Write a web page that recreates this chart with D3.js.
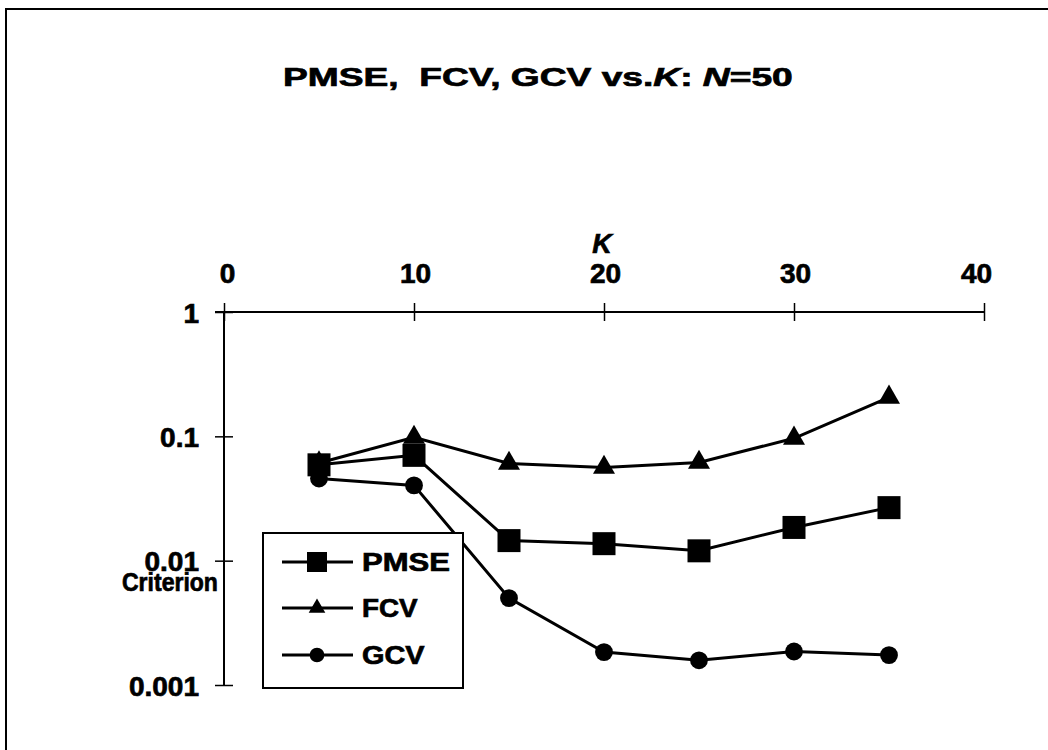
<!DOCTYPE html>
<html><head><meta charset="utf-8">
<script src="https://cdn.jsdelivr.net/npm/d3@7"></script>
<style>
html,body{margin:0;padding:0;background:#fff;}
text{font-family:"Liberation Sans",Arial,Helvetica,sans-serif;font-weight:bold;fill:#000;stroke:#000;stroke-width:0.7px;}
</style></head>
<body>
<svg id="chart" width="1048" height="750"></svg>
<script>
// ---- data ----
const kValues = [5, 10, 15, 20, 25, 30, 35];
const pmse = [0.059, 0.0703, 0.0145, 0.0137, 0.0120, 0.0185, 0.0267];
const fcv  = [0.061, 0.098, 0.0605, 0.0562, 0.0617, 0.0964, 0.206];
const gcv  = [0.0458, 0.0403, 0.0050, 0.00184, 0.00158, 0.00186, 0.00174];
const xTicks = [0, 10, 20, 30, 40];
const yTicks = [1, 0.1, 0.01, 0.001];
const yTickLabels = ["1", "0.1", "0.01", "0.001"];
const seriesNames = ["PMSE", "FCV", "GCV"];
const seriesSymbols = ["square", "triangle", "circle"];

const svg = d3.select("#chart");

// outer frame
svg.append("rect").attr("x", 6).attr("y", 9).attr("width", 1100).attr("height", 900)
  .attr("fill", "none").attr("stroke", "#000").attr("stroke-width", 2);

// scales
const x = d3.scaleLinear().domain([0, 40]).range([224, 984]);
const y = d3.scaleLog().domain([0.001, 1]).range([685, 312]);

// helper: stretch text horizontally to a target width
function fitWidth(sel, x0, yb, w) {
  const bw = sel.node().getBBox().width;
  sel.attr("transform", `translate(${x0},${yb}) scale(${w / bw},1)`);
}

// title
const title = svg.append("text").attr("font-size", 26);
title.append("tspan").text("PMSE,\u00a0 FCV, GCV vs.");
title.append("tspan").attr("font-style", "italic").text("K");
title.append("tspan").text(": ");
title.append("tspan").attr("font-style", "italic").text("N");
title.append("tspan").text("=50");
fitWidth(title, 283, 86, 510);

// top x axis
const xAxis = d3.axisTop(x).tickValues(xTicks).tickSize(0).tickPadding(0).tickFormat(d3.format("d"));
const gx = svg.append("g").attr("transform", `translate(0,${y(1)})`).call(xAxis);
gx.select(".domain").attr("stroke", "#000").attr("stroke-width", 2).attr("d", `M${x(0) - 9},0H${x(40)}`);
gx.selectAll(".tick line").remove();
gx.selectAll(".tick").append("line").attr("y1", -9).attr("y2", 9).attr("stroke", "#000").attr("stroke-width", 1.5);
gx.selectAll(".tick text").attr("font-size", 28).attr("font-family", null).attr("y", -29).attr("dy", 0)
  .attr("dx", d => d === 40 ? -8 : (d === 0 ? 3 : 1));
svg.append("text").attr("x", x(20) - 2).attr("y", 253).attr("text-anchor", "middle")
  .attr("font-size", 27).attr("font-style", "italic").text("K");

// left y axis
const yAxis = d3.axisLeft(y).tickValues(yTicks).tickSize(0).tickPadding(0)
  .tickFormat((d, i) => yTickLabels[i]);
const gy = svg.append("g").attr("transform", `translate(${x(0)},0)`).call(yAxis);
gy.select(".domain").attr("stroke", "#000").attr("stroke-width", 2).attr("d", `M0,${y(1)}V${y(0.001)}`);
gy.selectAll(".tick line").remove();
gy.selectAll(".tick").append("line").attr("x1", -9).attr("x2", 9).attr("stroke", "#000").attr("stroke-width", 1.5);
gy.selectAll(".tick text").attr("font-size", 28).attr("font-family", null).attr("x", -25).attr("dy", "0.36em");

const crit = svg.append("text").attr("font-size", 25).text("Criterion");
fitWidth(crit, 122, 591, 96);

// series
const allSeries = [pmse, fcv, gcv];
const line = d3.line().x(d => x(d[0])).y(d => y(d[1]));
const symSize = {square: 23 * 23, triangle: 210, circle: 250};
const symType = {square: d3.symbolSquare, triangle: d3.symbolTriangle, circle: d3.symbolCircle};

allSeries.forEach((vals) => {
  const pts = kValues.map((k, i) => [k, vals[i]]);
  svg.append("path").attr("d", line(pts)).attr("fill", "none").attr("stroke", "#000").attr("stroke-width", 3);
});
// markers: gcv, fcv, pmse order so pmse square on top
[2, 1, 0].forEach(si => {
  const vals = allSeries[si];
  const sym = seriesSymbols[si];
  svg.append("g").selectAll("path").data(kValues.map((k, i) => [k, vals[i]])).join("path")
    .attr("transform", d => `translate(${x(d[0])},${y(d[1])})`)
    .attr("d", d3.symbol().type(symType[sym]).size(symSize[sym]))
    .attr("fill", "#000");
});

// legend
const lg = svg.append("g");
lg.append("rect").attr("x", 263).attr("y", 533).attr("width", 200).attr("height", 155)
  .attr("fill", "#fff").attr("stroke", "#000").attr("stroke-width", 2);
const legY = [562, 608, 655];
const legW = [88, 56, 63];
const legSize = {square: 20 * 20, triangle: 120, circle: 170};
seriesNames.forEach((name, i) => {
  lg.append("line").attr("x1", 282).attr("x2", 353).attr("y1", legY[i]).attr("y2", legY[i])
    .attr("stroke", "#000").attr("stroke-width", 3);
  lg.append("path").attr("transform", `translate(317,${legY[i]})`)
    .attr("d", d3.symbol().type(symType[seriesSymbols[i]]).size(legSize[seriesSymbols[i]])).attr("fill", "#000");
  const t = lg.append("text").attr("font-size", 25).text(name);
  fitWidth(t, 362, legY[i] + 9, legW[i]);
});
</script>
</body></html>
